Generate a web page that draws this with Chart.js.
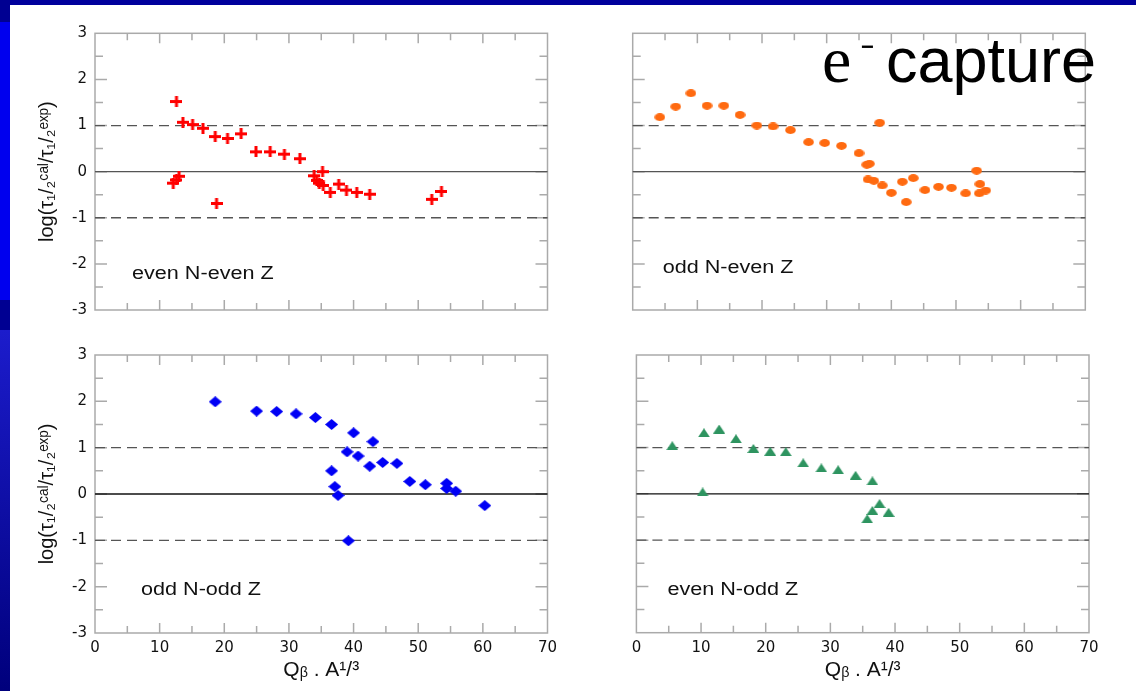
<!DOCTYPE html>
<html>
<head>
<meta charset="utf-8">
<script src="https://cdn.jsdelivr.net/npm/chart.js@4.4.1/dist/chart.umd.min.js"></script>
<style>
  html, body { margin: 0; padding: 0; }
  body { width: 1136px; height: 691px; position: relative; overflow: hidden; background: #00009c; }
  #strip { position: absolute; left: 0; top: 0; width: 10px; height: 691px;
    background: linear-gradient(to bottom, #000092 0, #000092 22px, #0000ee 22px, #0000ee 300px,
      #000092 300px, #000092 330px, #1c1ccc 330px, #00007c 691px); }
  #sheet { position: absolute; left: 10px; top: 5px; width: 1126px; height: 686px; background: #fff; }
  canvas { position: absolute; }
  .big { position: absolute; line-height: 1; white-space: nowrap; color: #000; }
</style>
</head>
<body>
<div id="strip"></div>
<div id="sheet"></div>
<canvas id="c1" width="568" height="325" style="left:10px;top:5px"></canvas>
<canvas id="c2" width="558" height="325" style="left:578px;top:5px"></canvas>
<canvas id="c3" width="568" height="361" style="left:10px;top:330px"></canvas>
<canvas id="c4" width="558" height="361" style="left:578px;top:330px"></canvas>
<span class="big" style="left:822px;top:22px;font:66px 'Liberation Serif'">e</span>
<span class="big" style="left:861px;top:34px;font:bold 22px 'Liberation Sans'">−</span>
<span class="big" style="left:886px;top:24px;font:63px 'Liberation Sans'">capture</span>
<script>
// even N - even Z (red crosses)
var eeX = [12.6, 13.6, 15.1, 16.7, 18.6, 20.5, 22.6, 24.9, 27.1, 29.3, 31.7, 33.9, 35.2, 34.3, 34.7, 35.3,
           36.4, 37.7, 38.9, 40.5, 42.5, 12.1, 12.6, 13.0, 18.8, 52.1, 53.6];
var eeY = [1.52, 1.07, 1.02, 0.94, 0.76, 0.72, 0.82, 0.43, 0.43, 0.38, 0.28, -0.09, 0.0, -0.19, -0.25, -0.30,
           -0.45, -0.27, -0.40, -0.45, -0.49, -0.25, -0.18, -0.10, -0.69, -0.60, -0.43];

// odd N - even Z (orange dots)
var oeX = [4.2, 6.65, 9.0, 11.5, 14.1, 16.6, 19.2, 21.7, 24.4, 27.2, 29.7, 32.3, 35.0, 36.2, 36.6, 38.2,
           36.4, 37.3, 38.6, 40.0, 41.7, 42.3, 43.4, 45.2, 47.3, 49.3, 51.5, 53.2, 53.7, 53.6, 54.6];
var oeY = [1.18, 1.41, 1.70, 1.43, 1.43, 1.23, 1.00, 0.98, 0.90, 0.64, 0.62, 0.56, 0.40, 0.15, 0.17, 1.06,
           -0.17, -0.20, -0.30, -0.46, -0.22, -0.66, -0.14, -0.40, -0.33, -0.35, -0.47, 0.02, -0.27, -0.47, -0.41];

// odd N - odd Z (blue diamonds)
var ooX = [18.6, 25.0, 28.1, 31.1, 34.1, 36.6, 40.0, 43.0, 39.0, 40.7, 42.5, 44.5, 46.7, 36.6, 37.1, 37.6,
           48.7, 51.1, 54.4, 54.4, 55.8, 39.2, 60.3];
var ooY = [1.99, 1.79, 1.78, 1.73, 1.65, 1.50, 1.32, 1.13, 0.91, 0.82, 0.60, 0.68, 0.66, 0.50, 0.16, -0.03,
           0.27, 0.20, 0.23, 0.12, 0.06, -1.01, -0.25];

// even N - odd Z (green triangles)
var eoX = [5.55, 10.45, 12.8, 15.4, 18.1, 20.7, 23.1, 25.8, 28.6, 31.2, 33.9, 36.5, 10.25, 37.6, 36.5, 39.0, 35.7];
var eoY = [1.04, 1.32, 1.40, 1.19, 0.98, 0.92, 0.91, 0.67, 0.56, 0.52, 0.40, 0.28, 0.04, -0.21, -0.36, -0.40, -0.54];

var panelNames = ['even N-even Z', 'odd N-even Z', 'odd N-odd Z', 'even N-odd Z'];
var refLines = [1, 0, -1];
var xRange = [0, 70];
var yRange = [-3, 3];
var yTitle = 'log(τ₁/₂ᶜᵃˡ/τ₁/₂ᵉˣᵖ)';
var xTitle = 'Qᵦ . A¹/³';

function pts(xs, ys) {
  return xs.map(function (x, i) { return { x: x, y: ys[i] }; });
}

// small stretched marker images (the source figure is a bit wider than tall)
function marker(w, h, draw) {
  var c = document.createElement('canvas');
  c.width = w; c.height = h;
  draw(c.getContext('2d'), w, h);
  return c;
}
var crossImg = marker(12, 11, function (g, w, h) {
  g.strokeStyle = '#ff0000'; g.lineWidth = 3;
  g.beginPath(); g.moveTo(0, h / 2); g.lineTo(w, h / 2); g.moveTo(w / 2, 0); g.lineTo(w / 2, h); g.stroke();
});
var dotImg = marker(11, 8, function (g, w, h) {
  g.fillStyle = '#ff6a10';
  g.beginPath(); g.ellipse(w / 2, h / 2, 5.3, 3.9, 0, 0, Math.PI * 2); g.fill();
});
var diamondImg = marker(13, 11, function (g, w, h) {
  g.fillStyle = '#0000f5';
  g.beginPath(); g.moveTo(w / 2, 0); g.lineTo(w, h / 2); g.lineTo(w / 2, h); g.lineTo(0, h / 2); g.closePath(); g.fill();
});
var triImg = marker(12, 9, function (g, w, h) {
  g.fillStyle = '#2e9460';
  g.beginPath(); g.moveTo(w / 2, 0); g.lineTo(w, h); g.lineTo(0, h); g.closePath(); g.fill();
});

var framePlugin = {
  id: 'frame',
  beforeDatasetsDraw: function (chart, args, opts) {
    var a = chart.chartArea, ctx = chart.ctx;
    var xs = chart.scales.x, ys = chart.scales.y;
    ctx.save();
    // frame and inward ticks
    ctx.strokeStyle = '#aaaaaa';
    ctx.lineWidth = 1.5;
    ctx.strokeRect(a.left, a.top, a.right - a.left, a.bottom - a.top);
    ctx.beginPath();
    for (var v = xRange[0] + 5; v < xRange[1]; v += 5) {
      var px = xs.getPixelForValue(v), len = v % 10 === 0 ? 10 : 7;
      ctx.moveTo(px, a.top); ctx.lineTo(px, a.top + len);
      ctx.moveTo(px, a.bottom); ctx.lineTo(px, a.bottom - len);
    }
    for (var w = yRange[0] + 0.5; w < yRange[1]; w += 0.5) {
      var py = ys.getPixelForValue(w), ln = w % 1 === 0 ? 12 : 8;
      ctx.moveTo(a.left, py); ctx.lineTo(a.left + ln, py);
      ctx.moveTo(a.right, py); ctx.lineTo(a.right - ln, py);
    }
    ctx.stroke();
    // reference lines at +1, 0, -1
    refLines.forEach(function (v) {
      var py = ys.getPixelForValue(v);
      ctx.beginPath();
      ctx.setLineDash(v === 0 ? [] : [10, 6]);
      ctx.strokeStyle = v === 0 ? opts.zeroColor : '#555';
      ctx.lineWidth = 1.3;
      ctx.moveTo(a.left, py); ctx.lineTo(a.right, py);
      ctx.stroke();
    });
    ctx.restore();

    ctx.save();
    ctx.font = '18px "Liberation Sans"';
    ctx.fillStyle = '#111';
    ctx.textBaseline = 'alphabetic';
    ctx.translate(a.left + opts.labelDx, a.top + opts.labelDy);
    ctx.scale(1.2, 1);
    ctx.fillText(opts.label, 0, 0);
    ctx.restore();
  }
};

var panels = [
  { id: 'c1', data: pts(eeX, eeY), img: crossImg, label: panelNames[0], showX: false, showY: true,
    pad: { left: 25, top: 28.3, right: 30.5, bottom: 20 }, labelDx: 37, labelDy: 246, zero: '#555' },
  { id: 'c2', data: pts(oeX, oeY), img: dotImg, label: panelNames[1], showX: false, showY: false,
    pad: { left: 54.7, top: 28.3, right: 50.7, bottom: 20 }, labelDx: 30, labelDy: 239.5, zero: '#555' },
  { id: 'c3', data: pts(ooX, ooY), img: diamondImg, label: panelNames[2], showX: true, showY: true,
    pad: { left: 25, top: 25, right: 30.5, bottom: 8 }, labelDx: 46, labelDy: 240, zero: '#111' },
  { id: 'c4', data: pts(eoX, eoY), img: triImg, label: panelNames[3], showX: true, showY: false,
    pad: { left: 58.4, top: 25, right: 47, bottom: 8.3 }, labelDx: 31, labelDy: 240, zero: '#111' }
];

var tickFont = { family: '"DejaVu Sans"', size: 15 };

panels.forEach(function (p) {
  new Chart(document.getElementById(p.id), {
    type: 'scatter',
    data: {
      datasets: [{
        data: p.data,
        pointStyle: p.img,
        pointRadius: 6,
        clip: false
      }]
    },
    options: {
      responsive: false,
      animation: false,
      events: [],
      layout: { autoPadding: false, padding: p.pad },
      plugins: {
        legend: { display: false },
        tooltip: { enabled: false },
        frame: { label: p.label, labelDx: p.labelDx, labelDy: p.labelDy, zeroColor: p.zero }
      },
      scales: {
        x: {
          type: 'linear', min: xRange[0], max: xRange[1],
          grid: { display: false, drawTicks: false, tickLength: 0 }, border: { display: false },
          ticks: { display: p.showX, stepSize: 10, color: '#111', font: tickFont, padding: 6, maxRotation: 0 },
          title: { display: p.showX, text: xTitle, color: '#111', padding: 0,
                   font: { family: '"Liberation Sans"', size: 21 } },
          afterFit: function (s) { s.height = p.showX ? 50 : 0; }
        },
        y: {
          type: 'linear', min: yRange[0], max: yRange[1],
          grid: { display: false, drawTicks: false, tickLength: 0 }, border: { display: false },
          ticks: { display: p.showY, stepSize: 1, color: '#111', font: tickFont, padding: 8 },
          title: { display: p.showY, text: yTitle, color: '#111', padding: 0,
                   font: { family: '"Liberation Sans"', size: 20 } },
          afterFit: function (s) { s.width = p.showY ? 60 : 0; }
        }
      }
    },
    plugins: [framePlugin]
  });
});
</script>
</body>
</html>
